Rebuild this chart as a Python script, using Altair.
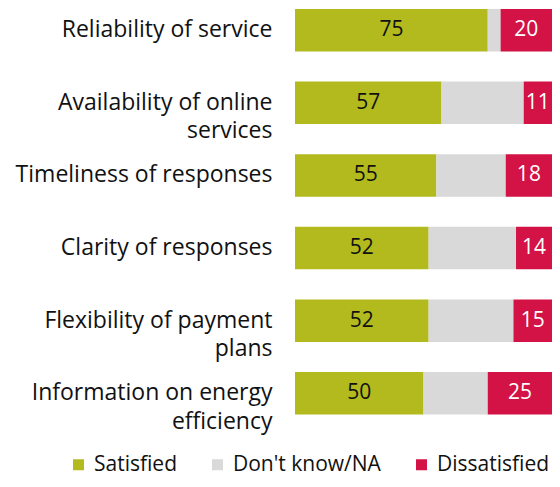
import altair as alt
import pandas as pd

categories = [
    "Reliability of service",
    "Availability of online|services",
    "Timeliness of responses",
    "Clarity of responses",
    "Flexibility of payment|plans",
    "Information on energy|efficiency",
]
satisfied = [75, 57, 55, 52, 52, 50]
dont_know = [5, 32, 27, 34, 33, 25]
dissatisfied = [20, 11, 18, 14, 15, 25]
statuses = ["Satisfied", "Don't know/NA", "Dissatisfied"]
colors = ["#b2ba1e", "#d9d9d9", "#d31245"]

rows = []
for i, c in enumerate(categories):
    for k, (s, vals) in enumerate(zip(statuses, [satisfied, dont_know, dissatisfied])):
        rows.append({"category": c, "status": s, "order": k, "value": vals[i]})
df = pd.DataFrame(rows)

FONT = "Open Sans"
TXT = "#111111"

base = alt.Chart(df).transform_stack(
    stack="value", groupby=["category"], sort=[alt.SortField("order")], as_=["x0", "x1"]
).transform_calculate(mid="(datum.x0 + datum.x1) / 2")

y = alt.Y(
    "category:N",
    sort=categories,
    title=None,
    scale=alt.Scale(paddingInner=0.415, paddingOuter=0),
    axis=alt.Axis(
        labelExpr="split(datum.label, '|')",
        domain=False,
        ticks=False,
        labelFont=FONT,
        labelFontSize=23,
        labelColor=TXT,
        labelPadding=23,
        labelLineHeight=28.5,
        labelLimit=0,
    ),
)

xscale = alt.Scale(domain=[0, 100], nice=False)

bars = base.mark_bar().encode(
    x=alt.X("x0:Q", scale=xscale, axis=None),
    x2="x1:Q",
    y=y,
    color=alt.Color(
        "status:N",
        scale=alt.Scale(domain=statuses, range=colors),
        sort=statuses,
        legend=alt.Legend(
            title=None,
            orient="none",
            legendX=-227,
            legendY=445,
            direction="horizontal",
            symbolType="square",
            symbolSize=121,
            symbolStrokeWidth=0,
            labelFont=FONT,
            labelFontSize=21,
            labelColor=TXT,
            labelOffset=5,
            columnPadding=30,
            padding=0,
        ),
    ),
)

text = base.transform_filter("datum.order != 1").mark_text(font=FONT, fontSize=21).encode(
    x=alt.X("mid:Q", scale=xscale),
    y=y,
    text="value:Q",
    color=alt.condition("datum.order == 2", alt.value("white"), alt.value(TXT)),
)

chart = (
    alt.layer(bars, text)
    .properties(
        width=257,
        height=405.5,
        autosize=alt.AutoSizeParams(type="none"),
        padding={"left": 287, "top": 1, "right": 0, "bottom": 64.5},
    )
    .configure_view(stroke=None)
)

chart.save("out.html", embed_options={"renderer": "svg", "actions": False})
